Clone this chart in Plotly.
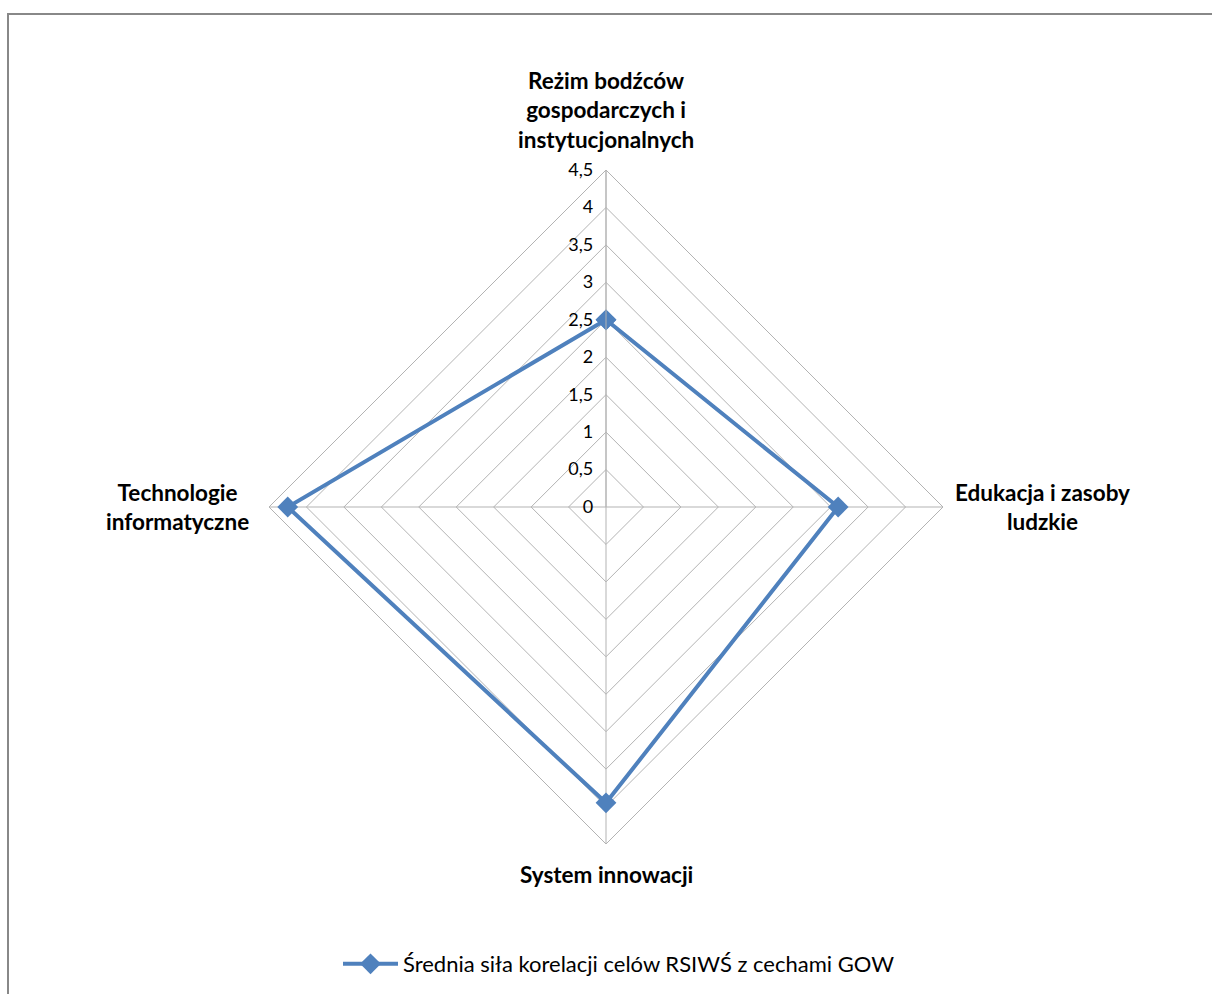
import plotly.graph_objects as go

# Radar data: average correlation strength of RSIWŚ goals with GOW features
categories = [
    "Reżim bodźców<br>gospodarczych i<br>instytucjonalnych",
    "Edukacja i zasoby<br>ludzkie",
    "System innowacji",
    "Technologie<br>informatyczne",
]
values = [2.5, 3.1, 3.95, 4.25]
series_name = "Średnia siła korelacji celów RSIWŚ z cechami GOW"
radial_ticks = [0, 0.5, 1, 1.5, 2, 2.5, 3, 3.5, 4, 4.5]

W, H = 1212, 994
cx, cy, R = 606, 507, 337  # pixel centre and outer radius of the radar

fig = go.Figure()
fig.add_trace(go.Scatterpolar(
    r=values + values[:1],
    theta=categories + categories[:1],
    mode="lines+markers",
    name=series_name,
    line=dict(color="#4F81BD", width=4),
    marker=dict(symbol="diamond", size=16, color="#4F81BD"),
))

grid = "#B3B3B3"
font_family = "Lato, 'Open Sans', sans-serif"

fig.update_layout(
    width=W, height=H,
    margin=dict(l=0, r=0, t=0, b=0),
    paper_bgcolor="white",
    separators=", ",
    font=dict(family=font_family, color="black"),
    polar=dict(
        domain=dict(x=[(cx - R) / W, (cx + R) / W],
                    y=[(H - cy - R) / H, (H - cy + R) / H]),
        gridshape="linear",
        bgcolor="white",
        radialaxis=dict(
            range=[0, 4.5], tickvals=radial_ticks,
            angle=90, tickangle=90, side="counterclockwise",
            showline=True, linecolor=grid, linewidth=1,
            gridcolor=grid, gridwidth=1,
            ticks="outside", ticklen=6, tickcolor="rgba(0,0,0,0)",
            tickfont=dict(size=18, color="black"),
        ),
        angularaxis=dict(
            direction="clockwise", rotation=90,
            showline=True, linecolor=grid, linewidth=1,
            gridcolor=grid, gridwidth=1,
            ticks="", showticklabels=False,
        ),
    ),
    showlegend=True,
    legend=dict(
        orientation="h", x=619 / W, xanchor="center", y=(H - 964) / H, yanchor="middle",
        font=dict(size=22, family=font_family), bgcolor="rgba(0,0,0,0)",
        itemwidth=55,
    ),
)

# Category labels around the radar
label_pos = [
    dict(x=cx / W, y=(H - 155) / H, xanchor="center", yanchor="bottom"),
    dict(x=(cx + R + 10) / W, y=(H - cy) / H, xanchor="left", yanchor="middle"),
    dict(x=cx / W, y=(H - cy - R - 15) / H, xanchor="center", yanchor="top"),
    dict(x=(cx - R - 18) / W, y=(H - cy) / H, xanchor="right", yanchor="middle"),
]
for text, pos in zip(categories, label_pos):
    fig.add_annotation(
        text="<b>" + text + "</b>", showarrow=False, xref="paper", yref="paper",
        align="center", font=dict(size=22.5, family=font_family, color="black"),
        **pos,
    )

# Chart frame
fig.add_shape(type="rect", xref="paper", yref="paper",
              x0=8 / W, x1=1.05, y0=-0.05, y1=(H - 14) / H,
              line=dict(color="#888888", width=2), fillcolor="rgba(0,0,0,0)", layer="below")

fig.write_html("out.html")
